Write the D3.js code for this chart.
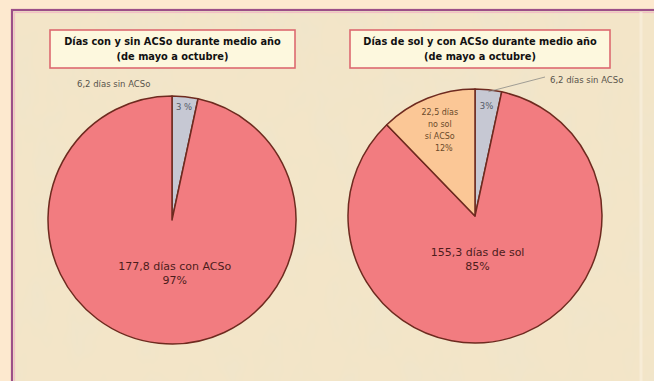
<!DOCTYPE html>
<html>
<head>
<meta charset="utf-8">
<script src="https://cdn.jsdelivr.net/npm/d3@7"></script>
<style>
  html, body { margin: 0; padding: 0; background: #fde9cf; }
  svg { display: block; }
</style>
</head>
<body>
<script>
// Days with and without ACSo over half a year (May to October)
const leftTitle = ["Días con y sin ACSo durante medio año", "(de mayo a octubre)"];
const leftCategories = ["sin ACSo", "con ACSo"];
const leftValues = [6.2, 177.8];
const leftPercents = ["3 %", "97%"];

const rightTitle = ["Días de sol y con ACSo durante medio año", "(de mayo a octubre)"];
const rightCategories = ["sin ACSo", "sol", "no sol, sí ACSo"];
const rightValues = [6.2, 155.3, 22.5];
const rightPercents = ["3%", "85%", "12%"];

const W = 654, H = 381;
const svg = d3.select("body").append("svg").attr("width", W).attr("height", H);

// parchment texture for the panel
const defs = svg.append("defs");
const f = defs.append("filter").attr("id", "paper").attr("x", 0).attr("y", 0).attr("width", 1).attr("height", 1);
f.append("feTurbulence").attr("type", "fractalNoise").attr("baseFrequency", "0.03 0.018")
  .attr("numOctaves", 3).attr("seed", 7).attr("result", "noise");
f.append("feColorMatrix").attr("in", "noise").attr("type", "matrix")
  .attr("values", "0 0 0 0 0.86  0 0 0 0 0.78  0 0 0 0 0.6  0 0 0 -1.5 0.9").attr("result", "tint");
f.append("feComposite").attr("in", "tint").attr("in2", "SourceGraphic").attr("operator", "over");

const color = {
  "sin ACSo": "#c6c8d3",
  "con ACSo": "#f27c80",
  "sol": "#f27c80",
  "no sol, sí ACSo": "#fbc796"
};

// panel frame
svg.append("rect").attr("x", 12).attr("y", 10).attr("width", 700).attr("height", 420)
  .attr("fill", "#f3e5c8").attr("filter", "url(#paper)");
svg.append("rect").attr("x", 12).attr("y", 10).attr("width", 700).attr("height", 420)
  .attr("fill", "none").attr("stroke", "#9c4f88").attr("stroke-width", 2.2);
svg.append("rect").attr("x", 14.5).attr("y", 12.5).attr("width", 700).attr("height", 420)
  .attr("fill", "none").attr("stroke", "#f2b7c4").attr("stroke-width", 1.2).attr("opacity", 0.8);
svg.append("line").attr("x1", 641).attr("x2", 641).attr("y1", 12).attr("y2", H)
  .attr("stroke", "#f9efdd").attr("stroke-width", 3).attr("opacity", 0.7);

const font = "DejaVu Sans, Verdana, sans-serif";

function titleBox(cx, x0, x1, y0, y1, lines) {
  const g = svg.append("g");
  g.append("rect").attr("x", x0).attr("y", y0).attr("width", x1 - x0).attr("height", y1 - y0)
    .attr("fill", "#fdf8de").attr("stroke", "#dc6a70").attr("stroke-width", 1.6);
  g.selectAll("text").data(lines).join("text")
    .attr("x", cx).attr("y", (d, i) => y0 + 15 + i * 15)
    .attr("text-anchor", "middle")
    .attr("font-family", font)
    .attr("font-weight", "bold").attr("font-size", 9.8).attr("fill", "#111")
    .text(d => d);
}

titleBox(172.5, 50, 295, 30, 68, leftTitle);
titleBox(480, 350, 610, 30, 68, rightTitle);

const pie = d3.pie().sort(null).value(d => d.value);
const dec = v => d3.format(".1f")(v).replace(".", ",");

function drawPie(cx, cy, r, cats, vals, pcts) {
  const data = cats.map((c, i) => ({ cat: c, value: vals[i], pct: pcts[i] }));
  const arcs = pie(data);
  const arc = d3.arc().innerRadius(0).outerRadius(r);
  const g = svg.append("g").attr("transform", `translate(${cx},${cy})`);
  g.selectAll("path").data(arcs).join("path")
    .attr("d", arc)
    .attr("fill", d => color[d.data.cat])
    .attr("stroke", "#6e2a1f").attr("stroke-width", 1.5).attr("stroke-linejoin", "round");
  return { g, arcs, r };
}

// left pie
const L = drawPie(172, 220, 124, leftCategories, leftValues, leftPercents);
{
  const gray = L.arcs[0], pink = L.arcs[1];
  const pg = d3.arc().innerRadius(114).outerRadius(114).centroid(gray);
  L.g.append("text").attr("x", pg[0]).attr("y", pg[1] + 3).attr("text-anchor", "middle")
    .attr("font-family", font).attr("font-size", 8.5).attr("fill", "#555a66").text(gray.data.pct);
  const pp = d3.arc().innerRadius(50).outerRadius(50).centroid(pink);
  L.g.append("text").attr("text-anchor", "middle").attr("font-family", font)
    .attr("font-size", 11).attr("fill", "#4d1c1c")
    .selectAll("tspan").data([dec(pink.data.value) + " días con ACSo", pink.data.pct])
    .join("tspan").attr("x", pp[0] + 8).attr("y", (d, i) => pp[1] + i * 14).text(d => d);
  svg.append("text").attr("x", 77).attr("y", 87).attr("font-family", font).attr("font-size", 8.5)
    .attr("fill", "#57534b")
    .text(dec(gray.data.value) + " días sin ACSo");
}

// right pie
const R = drawPie(475, 216, 127, rightCategories, rightValues, rightPercents);
{
  const gray = R.arcs[0], pink = R.arcs[1], orange = R.arcs[2];
  const pg = d3.arc().innerRadius(110).outerRadius(110).centroid(gray);
  R.g.append("text").attr("x", pg[0]).attr("y", pg[1] + 2).attr("text-anchor", "middle")
    .attr("font-family", font).attr("font-size", 8.5).attr("fill", "#555a66").text(gray.data.pct);
  const pp = d3.arc().innerRadius(42).outerRadius(42).centroid(pink);
  R.g.append("text").attr("text-anchor", "middle").attr("font-family", font)
    .attr("font-size", 11).attr("fill", "#4d1c1c")
    .selectAll("tspan").data([dec(pink.data.value) + " días de sol", pink.data.pct])
    .join("tspan").attr("x", pp[0] - 9).attr("y", (d, i) => pp[1] + i * 14).text(d => d);
  const po = d3.arc().innerRadius(94).outerRadius(94).centroid(orange);
  R.g.append("text").attr("text-anchor", "middle").attr("font-family", font)
    .attr("font-size", 8).attr("fill", "#6a4a2a")
    .selectAll("tspan").data([dec(orange.data.value) + " días", "no sol", "sí ACSo", orange.data.pct])
    .join("tspan").attr("x", (d, i) => po[0] + (i === 3 ? 4 : 0)).attr("y", (d, i) => po[1] - 14 + i * 12).text(d => d);
  // leader line to the outside label
  const edge = d3.arc().innerRadius(127).outerRadius(127).centroid(gray);
  svg.append("line").attr("x1", 475 + edge[0]).attr("y1", 216 + edge[1] + 2)
    .attr("x2", 545).attr("y2", 77).attr("stroke", "#8a8a86").attr("stroke-width", 0.8);
  svg.append("text").attr("x", 550).attr("y", 83).attr("font-family", font).attr("font-size", 8.5)
    .attr("fill", "#57534b")
    .text(dec(gray.data.value) + " días sin ACSo");
}
</script>
</body>
</html>
